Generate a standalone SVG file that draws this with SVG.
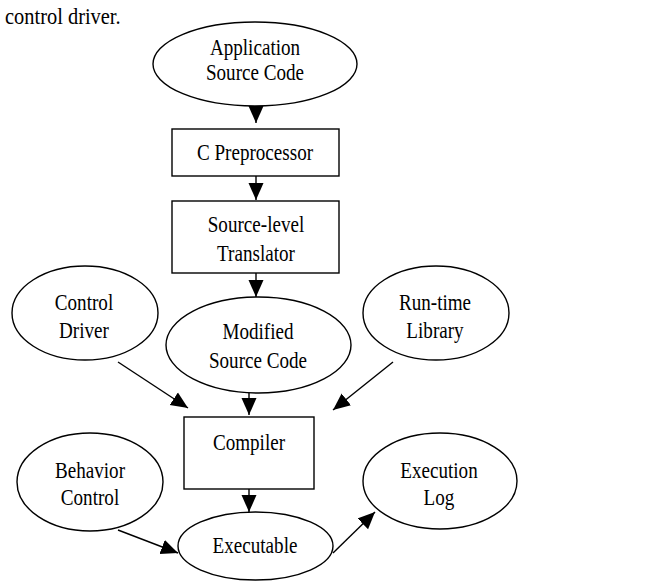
<svg xmlns="http://www.w3.org/2000/svg" width="667" height="583" viewBox="0 0 667 583">
<style>
.n{fill:#fff;stroke:#000;stroke-width:1.4}
.t{font-family:"Liberation Serif","Times New Roman",serif;font-size:21px;text-anchor:middle;fill:#000}
.c line{stroke:#000;stroke-width:1.4;marker-end:url(#ah)}
</style>
<defs>
<marker id="ah" markerUnits="userSpaceOnUse" markerWidth="20" markerHeight="18" refX="17" refY="8" orient="auto" viewBox="0 0 20 18">
<path d="M0,0.5 L17,8 L0,15.5 Z" fill="#000"/>
</marker>
</defs>
<rect width="667" height="583" fill="#fff"/>
<text transform="translate(5,24) scale(0.95,1.05)" font-family="Liberation Serif, Times New Roman, serif" font-size="21.5">control driver.</text>
<g class="c">
<line x1="256" y1="106" x2="256" y2="123"/>
<line x1="256" y1="176" x2="256" y2="200"/>
<line x1="256" y1="273" x2="256" y2="297"/>
<line x1="118" y1="362" x2="188" y2="408"/>
<line x1="249" y1="393" x2="249" y2="415"/>
<line x1="393" y1="362" x2="333" y2="410"/>
<line x1="249" y1="489" x2="249" y2="512"/>
<line x1="118" y1="530" x2="178" y2="553"/>
<line x1="333" y1="553" x2="375" y2="512"/>
</g>
<g id="app"><ellipse class="n" cx="255" cy="64" rx="102" ry="42"/><text class="t" transform="translate(255,55) scale(0.91,1.05)">Application</text><text class="t" transform="translate(255,80) scale(0.91,1.05)">Source Code</text></g>
<g id="cpp"><rect class="n" x="172" y="129" width="167" height="47"/><text class="t" transform="translate(255,160) scale(0.91,1.05)">C Preprocessor</text></g>
<g id="slt"><rect class="n" x="172" y="201" width="167" height="72"/><text class="t" transform="translate(256,232) scale(0.91,1.05)">Source-level</text><text class="t" transform="translate(256,261) scale(0.91,1.05)">Translator</text></g>
<g id="cd"><ellipse class="n" cx="85" cy="313" rx="73" ry="47"/><text class="t" transform="translate(84,310) scale(0.91,1.05)">Control</text><text class="t" transform="translate(84,338) scale(0.91,1.05)">Driver</text></g>
<g id="msc"><ellipse class="n" cx="258.5" cy="345" rx="92.5" ry="48"/><text class="t" transform="translate(258,339) scale(0.91,1.05)">Modified</text><text class="t" transform="translate(258,368) scale(0.91,1.05)">Source Code</text></g>
<g id="rtl"><ellipse class="n" cx="436" cy="313" rx="73" ry="47"/><text class="t" transform="translate(435,310) scale(0.91,1.05)">Run-time</text><text class="t" transform="translate(435,338) scale(0.91,1.05)">Library</text></g>
<g id="comp"><rect class="n" x="184" y="417" width="130" height="72"/><text class="t" transform="translate(249,450) scale(0.91,1.05)">Compiler</text></g>
<g id="bc"><ellipse class="n" cx="90" cy="482" rx="73" ry="49"/><text class="t" transform="translate(90,478) scale(0.91,1.05)">Behavior</text><text class="t" transform="translate(90,505) scale(0.91,1.05)">Control</text></g>
<g id="el"><ellipse class="n" cx="440" cy="481" rx="77" ry="48"/><text class="t" transform="translate(439,478) scale(0.91,1.05)">Execution</text><text class="t" transform="translate(439,505) scale(0.91,1.05)">Log</text></g>
<g id="exe"><ellipse class="n" cx="255.5" cy="546" rx="77.5" ry="34"/><text class="t" transform="translate(255,553) scale(0.91,1.05)">Executable</text></g>
</svg>
